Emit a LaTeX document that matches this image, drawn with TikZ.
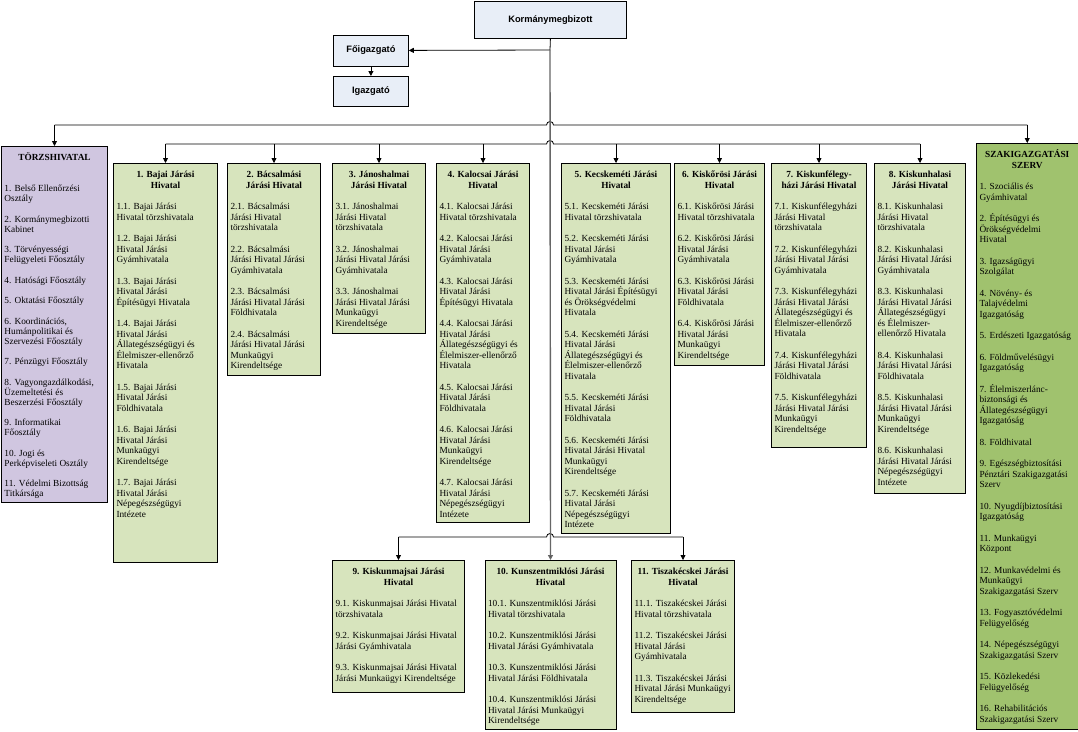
\documentclass[tikz,border=0pt]{standalone}
\usepackage{fontspec}
\setmainfont{Liberation Serif}
\newfontfamily\headfont{Liberation Sans}
\usetikzlibrary{arrows.meta}
\definecolor{topblue}{HTML}{E8EEF7}
\definecolor{lgreen}{HTML}{D7E4BD}
\definecolor{purp}{HTML}{D0C6E0}
\definecolor{dgreen}{HTML}{A0C26E}
\newcommand\orgtitle[1]{{\centering\bfseries\rule{0pt}{11pt}#1\par}}
\newcommand\orgbody[3]{\parbox[t][#2pt][t]{#1pt}{\raggedright\setlength\parskip{11pt}#3}}
\begin{document}
\begin{tikzpicture}[x=1pt,y=-1pt,
  orgbox/.style={draw=black, line width=1pt, inner sep=3pt, anchor=north west,
    font=\fontsize{9.3}{10.5}\selectfont},
  topbox/.style={draw=black, line width=0.8pt, fill=topblue, inner sep=0pt, anchor=north west,
    font=\headfont\bfseries\fontsize{9.3}{11}\selectfont},
  conn/.style={draw=black, line width=0.8pt},
  arr/.style={conn, -{Triangle[length=5pt,width=5pt]}},
  vline/.style={draw=black!60, line width=1.4pt, -{Triangle[length=5pt,width=5pt,fill=black]}}]
\useasboundingbox (0,0) rectangle (1078,731);
\fill[white] (0,0) rectangle (1078,731);

% top boxes
\node[topbox, minimum width=152pt, minimum height=37pt] (kor) at (474,1) {Kormánymegbizott};
\node[topbox, minimum width=75pt, minimum height=31pt] (foi) at (333,34.5) {Főigazgató};
\node[topbox, minimum width=75pt, minimum height=30pt] (iga) at (333,76) {Igazgató};

% TÖRZSHIVATAL
\node[orgbox, fill=purp, font=\fontsize{9.3}{10}\selectfont] (torzs) at (1,146) {\orgbody{100}{350}{\setlength\parskip{10.5pt}\orgtitle{TÖRZSHIVATAL}\vspace{10.5pt}
1. Belső Ellenőrzési\\Osztály\par
2. Kormánymegbizotti\\Kabinet\par
3. Törvényességi\\Felügyeleti Főosztály\par
4. Hatósági Főosztály\par
5. Oktatási Főosztály\par
6. Koordinációs,\\Humánpolitikai és\\Szervezési Főosztály\par
7. Pénzügyi Főosztály\par
8. Vagyongazdálkodási,\\Üzemeltetési és\\Beszerzési Főosztály\par
9. Informatikai\\Főosztály\par
10. Jogi és\\Perképviseleti Osztály\par
11. Védelmi Bizottság\\Titkársága}};

% 1 Bajai
\node[orgbox, fill=lgreen] (bajai) at (113,163) {\orgbody{98}{393}{\orgtitle{1. Bajai Járási\\Hivatal}
1.1. Bajai Járási\\Hivatal törzshivatala\par
1.2. Bajai Járási\\Hivatal Járási\\Gyámhivatala\par
1.3. Bajai Járási\\Hivatal Járási\\Építésügyi Hivatala\par
1.4. Bajai Járási\\Hivatal Járási\\Állategészségügyi és\\Élelmiszer-ellenőrző\\Hivatala\par
1.5. Bajai Járási\\Hivatal Járási\\Földhivatala\par
1.6. Bajai Járási\\Hivatal Járási\\Munkaügyi\\Kirendeltsége\par
1.7. Bajai Járási\\Hivatal Járási\\Népegészségügyi\\Intézete}};

% 2 Bácsalmási
\node[orgbox, fill=lgreen] (bacs) at (227,163) {\orgbody{87}{206}{\orgtitle{2. Bácsalmási\\Járási Hivatal}
2.1. Bácsalmási\\Járási Hivatal\\törzshivatala\par
2.2. Bácsalmási\\Járási Hivatal Járási\\Gyámhivatala\par
2.3. Bácsalmási\\Járási Hivatal Járási\\Földhivatala\par
2.4. Bácsalmási\\Járási Hivatal Járási\\Munkaügyi\\Kirendeltsége}};

% 3 Jánoshalmai
\node[orgbox, fill=lgreen] (janos) at (332,163) {\orgbody{87}{164}{\orgtitle{3. Jánoshalmai\\Járási Hivatal}
3.1. Jánoshalmai\\Járási Hivatal\\törzshivatala\par
3.2. Jánoshalmai\\Járási Hivatal Járási\\Gyámhivatala\par
3.3. Jánoshalmai\\Járási Hivatal Járási\\Munkaügyi\\Kirendeltsége}};

% 4 Kalocsai
\node[orgbox, fill=lgreen] (kaloc) at (436,163) {\orgbody{87}{353}{\orgtitle{4. Kalocsai Járási\\Hivatal}
4.1. Kalocsai Járási\\Hivatal törzshivatala\par
4.2. Kalocsai Járási\\Hivatal Járási\\Gyámhivatala\par
4.3. Kalocsai Járási\\Hivatal Járási\\Építésügyi Hivatala\par
4.4. Kalocsai Járási\\Hivatal Járási\\Állategészségügyi és\\Élelmiszer-ellenőrző\\Hivatala\par
4.5. Kalocsai Járási\\Hivatal Járási\\Földhivatala\par
4.6. Kalocsai Járási\\Hivatal Járási\\Munkaügyi\\Kirendeltsége\par
4.7. Kalocsai Járási\\Hivatal Járási\\Népegészségügyi\\Intézete}};

% 5 Kecskeméti
\node[orgbox, fill=lgreen] (kecsk) at (561,163) {\orgbody{103}{364}{\orgtitle{5. Kecskeméti Járási\\Hivatal}
5.1. Kecskeméti Járási\\Hivatal törzshivatala\par
5.2. Kecskeméti Járási\\Hivatal Járási\\Gyámhivatala\par
5.3. Kecskeméti Járási\\Hivatal Járási Építésügyi\\és Örökségvédelmi\\Hivatala\par
5.4. Kecskeméti Járási\\Hivatal Járási\\Állategészségügyi és\\Élelmiszer-ellenőrző\\Hivatala\par
5.5. Kecskeméti Járási\\Hivatal Járási\\Földhivatala\par
5.6. Kecskeméti Járási\\Hivatal Járási Hivatal\\Munkaügyi\\Kirendeltsége\par
5.7. Kecskeméti Járási\\Hivatal Járási\\Népegészségügyi\\Intézete}};

% 6 Kiskőrösi
\node[orgbox, fill=lgreen] (kisko) at (674,163) {\orgbody{84}{196}{\orgtitle{6. Kiskőrösi Járási\\Hivatal}
6.1. Kiskőrösi Járási\\Hivatal törzshivatala\par
6.2. Kiskőrösi Járási\\Hivatal Járási\\Gyámhivatala\par
6.3. Kiskőrösi Járási\\Hivatal Járási\\Földhivatala\par
6.4. Kiskőrösi Járási\\Hivatal Járási\\Munkaügyi\\Kirendeltsége}};

% 7 Kiskunfélegyházi
\node[orgbox, fill=lgreen] (fele) at (771,163) {\orgbody{89}{278}{\orgtitle{7. Kiskunfélegy-\\házi Járási Hivatal}
7.1. Kiskunfélegyházi\\Járási Hivatal\\törzshivatala\par
7.2. Kiskunfélegyházi\\Járási Hivatal Járási\\Gyámhivatala\par
7.3. Kiskunfélegyházi\\Járási Hivatal Járási\\Állategészségügyi és\\Élelmiszer-ellenőrző\\Hivatala\par
7.4. Kiskunfélegyházi\\Járási Hivatal Járási\\Földhivatala\par
7.5. Kiskunfélegyházi\\Járási Hivatal Járási\\Munkaügyi\\Kirendeltsége}};

% 8 Kiskunhalasi
\node[orgbox, fill=lgreen] (halas) at (874,163) {\orgbody{85}{324}{\orgtitle{8. Kiskunhalasi\\Járási Hivatal}
8.1. Kiskunhalasi\\Járási Hivatal\\törzshivatala\par
8.2. Kiskunhalasi\\Járási Hivatal Járási\\Gyámhivatala\par
8.3. Kiskunhalasi\\Járási Hivatal Járási\\Állategészségügyi\\és Élelmiszer-\\ellenőrző Hivatala\par
8.4. Kiskunhalasi\\Járási Hivatal Járási\\Földhivatala\par
8.5. Kiskunhalasi\\Járási Hivatal Járási\\Munkaügyi\\Kirendeltsége\par
8.6. Kiskunhalasi\\Járási Hivatal Járási\\Népegészségügyi\\Intézete}};

% SZAKIGAZGATÁSI SZERV
\node[orgbox, fill=dgreen] (szak) at (976,143) {\orgbody{95.5}{580}{\orgtitle{SZAKIGAZGATÁSI\\SZERV}
1. Szociális és\\Gyámhivatal\par
2. Építésügyi és\\Örökségvédelmi\\Hivatal\par
3. Igazságügyi\\Szolgálat\par
4. Növény- és\\Talajvédelmi\\Igazgatóság\par
5. Erdészeti Igazgatóság\par
6. Földművelésügyi\\Igazgatóság\par
7. Élelmiszerlánc-\\biztonsági és\\Állategészségügyi\\Igazgatóság\par
8. Földhivatal\par
9. Egészségbiztosítási\\Pénztári Szakigazgatási\\Szerv\par
10. Nyugdíjbiztosítási\\Igazgatóság\par
11. Munkaügyi\\Központ\par
12. Munkavédelmi és\\Munkaügyi\\Szakigazgatási Szerv\par
13. Fogyasztóvédelmi\\Felügyelőség\par
14. Népegészségügyi\\Szakigazgatási Szerv\par
15. Közlekedési\\Felügyelőség\par
16. Rehabilitációs\\Szakigazgatási Szerv}};

% bottom row
\node[orgbox, fill=lgreen] (k9) at (332,560) {\orgbody{126}{126}{\orgtitle{9. Kiskunmajsai Járási\\Hivatal}
9.1. Kiskunmajsai Járási Hivatal\\törzshivatala\par
9.2. Kiskunmajsai Járási Hivatal\\Járási Gyámhivatala\par
9.3. Kiskunmajsai Járási Hivatal\\Járási Munkaügyi Kirendeltsége}};

\node[orgbox, fill=lgreen] (k10) at (484.5,560) {\orgbody{125}{163}{\orgtitle{10. Kunszentmiklósi Járási\\Hivatal}
10.1. Kunszentmiklósi Járási\\Hivatal törzshivatala\par
10.2. Kunszentmiklósi Járási\\Hivatal Járási Gyámhivatala\par
10.3. Kunszentmiklósi Járási\\Hivatal Járási Földhivatala\par
10.4. Kunszentmiklósi Járási\\Hivatal Járási Munkaügyi\\Kirendeltsége}};

\node[orgbox, fill=lgreen] (k11) at (631,560) {\orgbody{97}{146}{\orgtitle{11. Tiszakécskei Járási\\Hivatal}
11.1. Tiszakécskei Járási\\Hivatal törzshivatala\par
11.2. Tiszakécskei Járási\\Hivatal Járási\\Gyámhivatala\par
11.3. Tiszakécskei Járási\\Hivatal Járási Munkaügyi\\Kirendeltsége}};

% connectors
\coordinate (j1) at (550,50);
\coordinate (b1) at (0,125);
\coordinate (b2) at (0,144);
\coordinate (b3) at (0,537);

\draw[conn] (kor.south) -- (j1);
\draw[arr] (j1) -- (foi.east);
\draw[arr] (foi.south) -- (iga.north);

\draw[conn] (torzs.north |- b1) -- (546.5,125) arc[start angle=180,end angle=0,radius=3.5pt] -- (szak.north |- b1);
\draw[arr] (torzs.north |- b1) -- (torzs.north);
\draw[arr] (szak.north |- b1) -- (szak.north);

\draw[conn] (bajai.north |- b2) -- (546.5,144) arc[start angle=180,end angle=0,radius=3.5pt] -- (halas.north |- b2);
\foreach \n in {bajai,bacs,janos,kaloc,kecsk,kisko,fele,halas}
  \draw[arr] (\n.north |- b2) -- (\n.north);

\draw[conn] (k9.north |- b3) -- (546.5,537) arc[start angle=180,end angle=0,radius=3.5pt] -- (k11.north |- b3);
\draw[arr] (k9.north |- b3) -- (k9.north);
\draw[arr] (k11.north |- b3) -- (k11.north);

\draw[vline] (j1) -- (k10.north);
\end{tikzpicture}
\end{document}
